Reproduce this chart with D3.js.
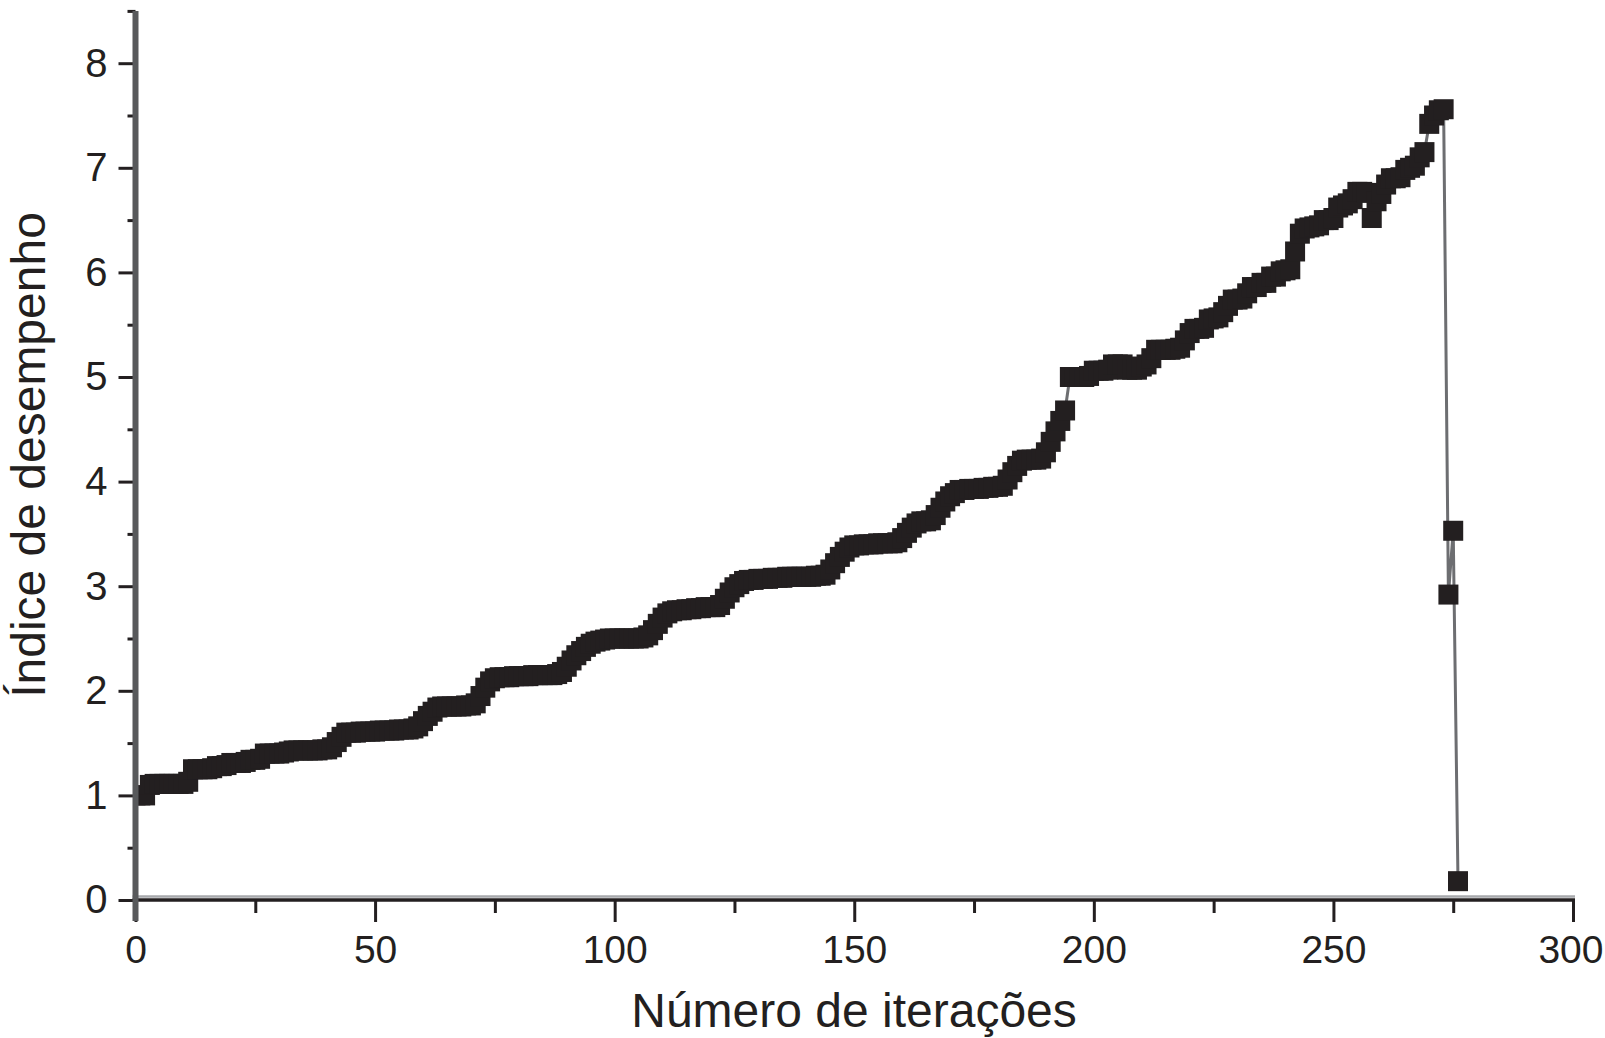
<!DOCTYPE html>
<html>
<head>
<meta charset="utf-8">
<script src="https://cdn.jsdelivr.net/npm/d3@7"></script>
<style>
  html, body { margin: 0; padding: 0; background: #fff; }
  svg { display: block; }
  text { font-family: "Liberation Sans", Arial, Helvetica, sans-serif; fill: #231f20; }
</style>
</head>
<body>
<svg id="chart" width="1605" height="1038"></svg>
<script>
// ---- data ----
const xTickLabels = [0, 50, 100, 150, 200, 250, 300];
const xMinorTicks = [25, 75, 125, 175, 225, 275];
const yTickLabels = [0, 1, 2, 3, 4, 5, 6, 7, 8];
const yMinorTicks = [0.5, 1.5, 2.5, 3.5, 4.5, 5.5, 6.5, 7.5, 8.5];
const xTitle = "Número de iterações";
const yTitle = "Índice de desempenho";

// performance index for iterations 0..276
const performance = [
  1.00, 1.00, 1.00, 1.10, 1.11, 1.11, 1.11, 1.11, 1.11, 1.11,
  1.11, 1.13, 1.25, 1.25, 1.25, 1.25, 1.26, 1.28, 1.28, 1.29,
  1.31, 1.31, 1.31, 1.32, 1.34, 1.34, 1.35, 1.40, 1.40, 1.40,
  1.40, 1.41, 1.42, 1.43, 1.43, 1.43, 1.43, 1.43, 1.43, 1.44,
  1.44, 1.46, 1.51, 1.56, 1.60, 1.60, 1.60, 1.61, 1.61, 1.61,
  1.61, 1.62, 1.62, 1.62, 1.62, 1.63, 1.63, 1.63, 1.64, 1.66,
  1.71, 1.76, 1.80, 1.84, 1.85, 1.85, 1.85, 1.85, 1.85, 1.86,
  1.86, 1.88, 1.95, 2.03, 2.09, 2.12, 2.13, 2.13, 2.13, 2.14,
  2.14, 2.14, 2.14, 2.15, 2.15, 2.15, 2.15, 2.15, 2.16, 2.18,
  2.23, 2.29, 2.34, 2.38, 2.42, 2.45, 2.47, 2.48, 2.49, 2.50,
  2.50, 2.50, 2.50, 2.50, 2.50, 2.50, 2.51, 2.53, 2.58, 2.64,
  2.70, 2.74, 2.76, 2.77, 2.77, 2.78, 2.78, 2.79, 2.79, 2.80,
  2.80, 2.80, 2.82, 2.88, 2.94, 2.99, 3.02, 3.05, 3.06, 3.06,
  3.07, 3.07, 3.07, 3.08, 3.08, 3.08, 3.09, 3.09, 3.09, 3.09,
  3.09, 3.09, 3.10, 3.10, 3.11, 3.16, 3.22, 3.28, 3.33, 3.37,
  3.39, 3.39, 3.40, 3.40, 3.40, 3.41, 3.41, 3.41, 3.41, 3.42,
  3.46, 3.51, 3.56, 3.60, 3.62, 3.62, 3.63, 3.68, 3.75, 3.81,
  3.86, 3.89, 3.92, 3.92, 3.93, 3.93, 3.93, 3.94, 3.94, 3.95,
  3.95, 3.96, 4.02, 4.09, 4.15, 4.20, 4.21, 4.21, 4.21, 4.22,
  4.28, 4.38, 4.48, 4.58, 4.68, 5.00, 5.00, 5.00, 5.00, 5.01,
  5.06, 5.06, 5.06, 5.07, 5.12, 5.12, 5.12, 5.07, 5.07, 5.07,
  5.10, 5.12, 5.18, 5.26, 5.26, 5.26, 5.26, 5.27, 5.28, 5.35,
  5.42, 5.46, 5.46, 5.47, 5.55, 5.56, 5.57, 5.62, 5.68, 5.74,
  5.74, 5.75, 5.80, 5.86, 5.86, 5.90, 5.90, 5.96, 5.96, 6.01,
  6.02, 6.03, 6.20, 6.37, 6.42, 6.43, 6.44, 6.45, 6.50, 6.50,
  6.52, 6.62, 6.64, 6.66, 6.70, 6.77, 6.77, 6.76, 6.52, 6.68,
  6.75, 6.84, 6.90, 6.90, 6.91, 6.98, 7.00, 7.02, 7.10, 7.15,
  7.42, 7.50, 7.55, 7.56, 2.92, 3.53, 0.18
];
const iterations = performance.map((_, i) => i);

// ---- layout ----
const svg = d3.select("#chart");
const ink = "#231f20";
const x = d3.scaleLinear().domain([0, 300]).range([135.5, 1573]);
const y = d3.scaleLinear().domain([0, 8.5]).range([900, 900 - 8.5 * 104.6]);

const points = iterations.map(i => ({ it: i, v: performance[i] }));

// clip to plot area
svg.append("defs").append("clipPath").attr("id", "plotClip")
  .append("rect").attr("x", x(0)).attr("y", 0).attr("width", 1605 - x(0)).attr("height", y(0));

const plot = svg.append("g").attr("clip-path", "url(#plotClip)");

// connecting line
plot.append("path")
  .datum(points)
  .attr("fill", "none")
  .attr("stroke", "#6d6e71")
  .attr("stroke-width", 3)
  .attr("d", d3.line().x(d => x(d.it)).y(d => y(d.v)));

// square markers
const ms = 20;
plot.selectAll("rect.m").data(points).join("rect")
  .attr("class", "m")
  .attr("x", d => x(d.it) - ms / 2)
  .attr("y", d => y(d.v) - ms / 2)
  .attr("width", ms).attr("height", ms)
  .attr("fill", ink);

// ---- x axis ----
const xMinor = svg.append("g").attr("transform", `translate(0,${y(0)})`)
  .call(d3.axisBottom(x).tickValues(xMinorTicks).tickSize(13).tickFormat(""));
const xMajor = svg.append("g").attr("transform", `translate(0,${y(0)})`)
  .call(d3.axisBottom(x).tickValues(xTickLabels).tickSize(22).tickPadding(13).tickFormat(d3.format("d")));
[xMinor, xMajor].forEach(g => {
  g.select(".domain").remove();
  g.selectAll(".tick line").attr("stroke", ink).attr("stroke-width", 3);
});
xMajor.selectAll(".tick text").attr("font-size", 39).style("fill", ink);
// keep the last label inside the page edge
xMajor.selectAll(".tick text").filter(d => d === 300)
  .attr("text-anchor", "end").attr("x", 1603 - x(300));

// ---- y axis ----
const yMinor = svg.append("g").attr("transform", `translate(${x(0)},0)`)
  .call(d3.axisLeft(y).tickValues(yMinorTicks).tickSize(8).tickFormat(""));
const yMajor = svg.append("g").attr("transform", `translate(${x(0)},0)`)
  .call(d3.axisLeft(y).tickValues(yTickLabels).tickSize(17).tickPadding(11).tickFormat(d3.format("d")));
[yMinor, yMajor].forEach(g => {
  g.select(".domain").remove();
  g.selectAll(".tick line").attr("stroke", ink).attr("stroke-width", 3);
});
yMajor.selectAll(".tick text").attr("font-size", 40).style("fill", ink);

// axis lines
svg.append("line")
  .attr("x1", x(0) - 3).attr("x2", x(300) + 2)
  .attr("y1", y(0) - 3.5).attr("y2", y(0) - 3.5)
  .attr("stroke", "#a7a9ac").attr("stroke-width", 2.5);
svg.append("line")
  .attr("x1", x(0) - 3).attr("x2", x(300) + 2)
  .attr("y1", y(0)).attr("y2", y(0))
  .attr("stroke", ink).attr("stroke-width", 3.5);
svg.append("line")
  .attr("x1", x(0)).attr("x2", x(0))
  .attr("y1", y(8.5)).attr("y2", y(0) + 21)
  .attr("stroke", "#58595b").attr("stroke-width", 6);

// ---- titles ----
svg.append("text")
  .attr("x", 854).attr("y", 1027)
  .attr("text-anchor", "middle")
  .attr("font-size", 48)
  .text(xTitle);

svg.append("text")
  .attr("transform", "translate(45,455) rotate(-90)")
  .attr("text-anchor", "middle")
  .attr("font-size", 48)
  .text(yTitle);
</script>
</body>
</html>
